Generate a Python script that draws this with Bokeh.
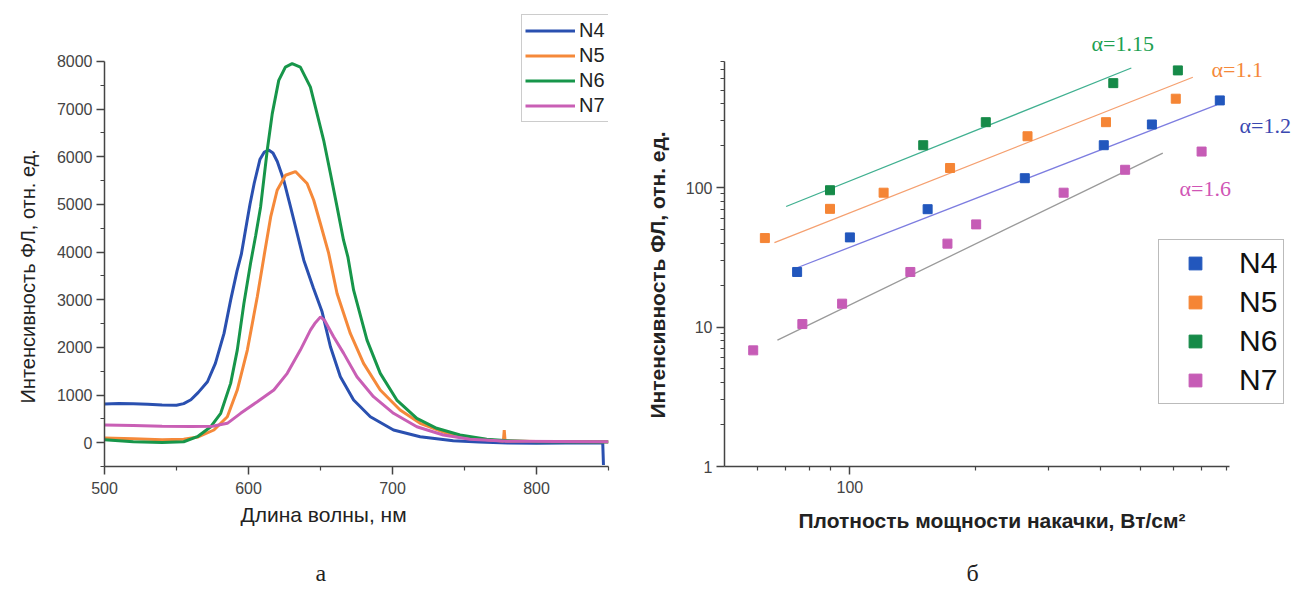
from bokeh.plotting import figure
from bokeh.layouts import row
from bokeh.models import (Legend, LegendItem, Label, FixedTicker, Range1d, Title,
                          PrintfTickFormatter)
from bokeh.embed import file_html
from bokeh.resources import INLINE

# ---------------- panel (а): PL spectra ----------------
n4_wl = [500, 510, 520, 530, 540, 550, 555, 560, 565, 571.5, 577, 583, 587.6, 592, 595, 597,
         599, 601, 604, 608, 611, 614, 617, 620, 624.5, 629.2, 633.8, 638.4, 645, 651.1,
         656.9, 663.8, 673, 684.6, 700.7, 719.2, 742.2, 760, 780, 800, 820, 845, 846, 846.5]
n4_int = [810, 820, 815, 805, 790, 785, 820, 900, 1050, 1279, 1665, 2293, 2992, 3600, 3950, 4300,
          4650, 5000, 5450, 5950, 6100, 6140, 6080, 5900, 5507, 4948, 4390, 3830, 3250, 2747,
          2013, 1384, 895, 545, 266, 126, 42, 15, -5, -10, -5, -5, -5, -470]

n5_wl = [500, 520, 540, 555, 565, 576, 585.3, 592.2, 599.2, 606.1, 610.7, 615.4, 619.9, 625.7,
         632.6, 640.7, 645.3, 649.9, 655.7, 661.5, 670.7, 679.9, 691.5, 705.3, 719.2, 737.7,
         756.1, 770, 777, 777.6, 778.2, 800, 850]
n5_int = [100, 80, 60, 70, 120, 266, 545, 1105, 1943, 3061, 3899, 4738, 5298, 5612,
          5690, 5438, 5088, 4600, 3971, 3132, 2293, 1665, 1105, 686, 406, 197,
          92, 50, 35, 266, 35, 25, 20]

n6_wl = [500, 510, 520, 540, 555, 564.5, 573.8, 580.7, 587.6, 592.2, 596.8, 601.4, 605, 608.4,
         613, 616.5, 621, 625.6, 630.3, 636, 643, 647.6, 652.2, 656.9, 661.5, 666, 669, 673,
         682.3, 691.5, 703, 716.9, 730.7, 746.9, 765.4, 780, 800, 850]
n6_int = [60, 40, 20, 5, 20, 126, 335, 616, 1245, 1943, 2922, 3761, 4350, 4948,
          6136, 6906, 7604, 7883, 7954, 7883, 7463, 6906, 6346, 5648, 4948, 4250, 3900, 3200,
          2153, 1455, 895, 511, 302, 161, 71, 40, 20, 15]

n7_wl = [500, 520, 540, 560, 575, 585.3, 594.5, 606.1, 617.6, 626.9, 636, 643, 646, 650,
         653, 659.1, 666.1, 675.3, 686.8, 700.7, 716.9, 735.3, 753.8, 780, 850]
n7_int = [370, 360, 345, 340, 345, 406, 616, 860, 1105, 1455, 1943, 2362, 2500, 2640,
          2560, 2223, 1874, 1384, 965, 616, 335, 161, 71, 30, 20]

# ---------------- panel (б): PL vs pump density ----------------
n4_p = [74.7, 100, 153.7, 263, 407, 531, 773]
n4_i = [24.8, 43.9, 69.9, 116.6, 201, 283, 421]
n5_p = [62.5, 89.6, 120.5, 174, 267, 412, 606]
n5_i = [43.4, 70.3, 91.8, 138, 233, 294, 433]
n6_p = [89.6, 150, 212, 429, 613]
n6_i = [95.6, 201, 294, 560, 691]
n7_p = [58.6, 76.9, 95.8, 139.7, 171.5, 201, 326, 458, 699]
n7_i = [6.8, 10.5, 14.7, 24.8, 39.6, 54.4, 91.8, 134, 181]

# fitted power-law lines (end points)
fit6_p, fit6_i = [70.3, 474], [73.1, 719]
fit5_p, fit5_i = [65.9, 666], [40.3, 617]
fit4_p, fit4_i = [74.7, 760], [26.6, 391]
fit7_p, fit7_i = [67, 564], [8.06, 176.6]

names = ["N4", "N5", "N6", "N7"]
alpha_labels = ["α=1.2", "α=1.1", "α=1.15", "α=1.6"]

C_LINE = ["#2a50b0", "#f5893a", "#17964a", "#c95fb5"]
C_PT = ["#2257bd", "#f58535", "#168a48", "#c65cb6"]
C_FIT = ["#7d7de0", "#f5a070", "#40b090", "#9a9a9a"]
C_TXT = ["#3a48b0", "#f5893a", "#20a050", "#d055b5"]

SANS = "Liberation Sans"
SERIF = "Liberation Serif"


def style_axes(p, tick_size):
    for ax in (p.xaxis, p.yaxis):
        ax.axis_line_color = "#444444"
        ax.axis_line_width = 1.5
        ax.major_tick_line_color = "#444444"
        ax.major_tick_line_width = 1.5
        ax.minor_tick_line_color = "#444444"
        ax.minor_tick_line_width = 1.2
        ax.major_tick_out = 8
        ax.major_tick_in = 0
        ax.minor_tick_out = 4
        ax.minor_tick_in = 0
        ax.major_label_text_font = SANS
        ax.major_label_text_font_size = tick_size
        ax.major_label_text_color = "#444444"
    p.xgrid.grid_line_color = None
    p.ygrid.grid_line_color = None
    p.outline_line_color = None


def add_title(p, text, side, offset, standoff, size, bold=False, font=SANS):
    p.add_layout(Title(text=text, align="left", offset=offset, standoff=standoff,
                       text_font=font, text_font_size=size,
                       text_font_style="bold" if bold else "normal",
                       text_color="#222222"), side)


# ---------- left figure ----------
p1 = figure(frame_width=504, frame_height=454, min_border_left=104, min_border_right=20,
            min_border_top=12, min_border_bottom=124,
            x_range=Range1d(500, 850), y_range=Range1d(-500, 9028),
            output_backend="svg", toolbar_location=None)
style_axes(p1, "16px")
p1.xaxis.ticker = FixedTicker(ticks=[500, 600, 700, 800], minor_ticks=[550, 650, 750, 850])
p1.yaxis.ticker = FixedTicker(ticks=list(range(0, 8001, 1000)),
                              minor_ticks=list(range(-500, 8000, 1000)))
p1.yaxis.bounds = (-500, 8000)
p1.xaxis.major_label_standoff = 7
p1.yaxis.major_label_standoff = 4

spec = [(n4_wl, n4_int), (n5_wl, n5_int), (n6_wl, n6_int), (n7_wl, n7_int)]
rl = []
for (wl, it), c in zip(spec, C_LINE):
    rl.append(p1.line(wl, it, line_color=c, line_width=3))

leg1 = Legend(items=[LegendItem(label=n, renderers=[r]) for n, r in zip(names, rl)],
              location=(417, 344), padding=3, spacing=0, margin=0,
              label_height=25, glyph_height=25, glyph_width=50, label_standoff=4,
              label_text_font=SANS, label_text_font_size="20px", label_text_color="#222222",
              border_line_color="#999999", border_line_width=1.5,
              background_fill_color="white", background_fill_alpha=1)
p1.add_layout(leg1)
add_title(p1, "Длина волны, нм", "below", 136, 9, "21px")
add_title(p1, "а", "below", 211, 54, "24px", font=SERIF)
add_title(p1, "Интенсивность ФЛ, отн. ед.", "left", 63, 29, "20px")

# ---------- right figure ----------
p2 = figure(frame_width=567, frame_height=454, min_border_left=96, min_border_right=0,
            min_border_top=12, min_border_bottom=124,
            x_axis_type="log", y_axis_type="log",
            x_range=Range1d(50, 1149), y_range=Range1d(1, 1797),
            output_backend="svg", toolbar_location=None)
style_axes(p2, "16px")
p2.xaxis.ticker = FixedTicker(ticks=[100], minor_ticks=[60, 70, 80, 90, 200, 300, 400,
                                                        500, 600, 700, 800])
p2.yaxis.ticker = FixedTicker(ticks=[1, 10, 100],
                              minor_ticks=[2, 3, 4, 5, 6, 7, 8, 9, 20, 30, 40, 50, 60, 70,
                                           80, 90, 200, 300, 400, 500, 600, 700, 800])
p2.xaxis.bounds = (50, 815)
p2.yaxis.bounds = (1, 800)
p2.xaxis.formatter = PrintfTickFormatter(format="%d")
p2.yaxis.formatter = PrintfTickFormatter(format="%d")
p2.xaxis.major_label_standoff = 6
p2.yaxis.major_label_standoff = 4

fits = [(fit4_p, fit4_i), (fit5_p, fit5_i), (fit6_p, fit6_i), (fit7_p, fit7_i)]
for (fx, fy), c in zip(fits, C_FIT):
    p2.line(fx, fy, line_color=c, line_width=1.3)

pts = [(n4_p, n4_i), (n5_p, n5_i), (n6_p, n6_i), (n7_p, n7_i)]
rs = []
for (px, py), c in zip(pts, C_PT):
    rs.append(p2.scatter(px, py, marker="square", size=9, fill_color=c, line_color=c))

leg2 = Legend(items=[LegendItem(label=n, renderers=[r]) for n, r in zip(names, rs)],
              location=(434, 62), padding=6, spacing=5, margin=0,
              label_height=32, glyph_height=32, glyph_width=60, label_standoff=14,
              label_text_font=SANS, label_text_font_size="30px", label_text_color="#111111",
              border_line_color="#777777", border_line_width=1.5,
              background_fill_color="white", background_fill_alpha=1)
p2.add_layout(leg2)

alpha_pos = [(994, 278), (851, 705), (452, 1082), (713, 97.9)]
for (ax_, ay_), t, c in zip(alpha_pos, alpha_labels, C_TXT):
    p2.add_layout(Label(x=ax_, y=ay_, text=t, text_font=SERIF, text_font_size="22px",
                        text_align="center", text_baseline="middle", text_color=c))
add_title(p2, "Плотность мощности накачки, Вт/см²", "below", 74, 22, "21px", bold=True)
add_title(p2, "б", "below", 242, 31, "24px", font=SERIF)
add_title(p2, "Интенсивность ФЛ, отн. ед.", "left", 48, 28, "21px", bold=True)

layout = row(p1, p2)
open("out.html", "w").write(file_html(layout, INLINE))
